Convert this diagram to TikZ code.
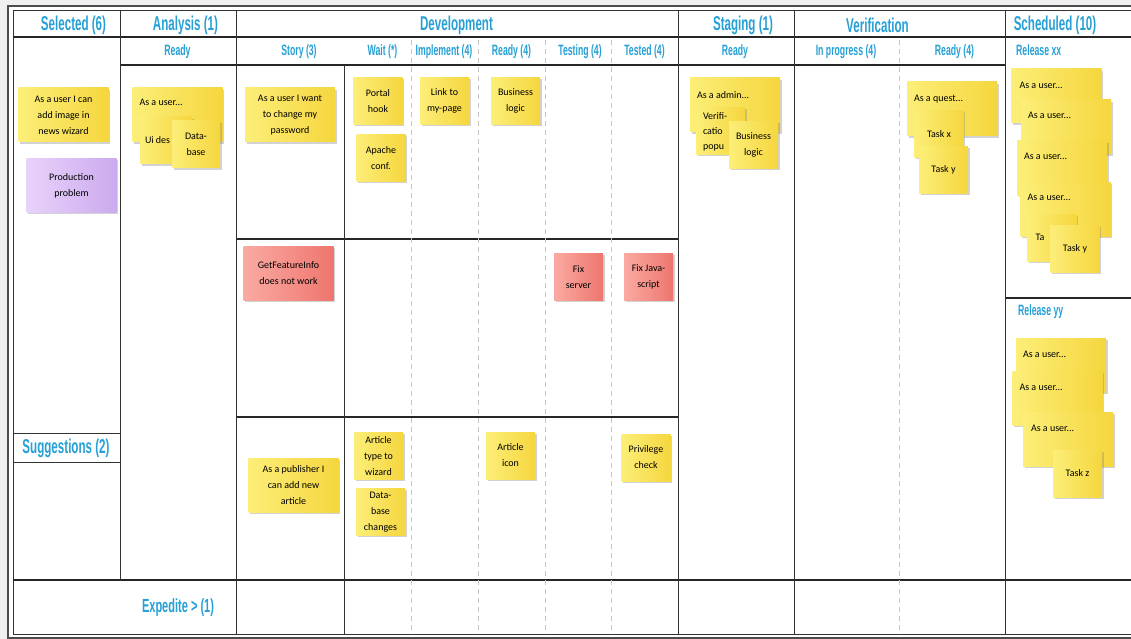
\documentclass[tikz,border=0pt]{standalone}
\usepackage{fontspec}
\usepackage{tikz}
\usetikzlibrary{shadows}
\newfontfamily\headfont[FakeStretch=0.58]{Liberation Sans}
\newfontfamily\notefont{Carlito}
\definecolor{headblue}{RGB}{38,160,214}
\definecolor{noteA}{RGB}{252,238,120}
\definecolor{noteB}{RGB}{245,214,62}
\definecolor{redA}{RGB}{250,170,162}
\definecolor{redB}{RGB}{238,118,110}
\definecolor{purA}{RGB}{232,210,250}
\definecolor{purB}{RGB}{204,170,238}

\begin{document}
\begin{tikzpicture}[x=1pt,y=-1pt]

            \tikzset{head/.style={text=headblue, inner sep=0pt, font=\headfont\bfseries\fontsize{20}{22}\selectfont},
                     sub/.style={text=headblue, inner sep=0pt, font=\headfont\bfseries\fontsize{15}{17}\selectfont},
                     ynote/.style={left color=noteA, right color=noteB, inner sep=2pt, align=center,
                        drop shadow={shadow xshift=1.8pt, shadow yshift=-1.8pt, opacity=0.35},
                        font=\notefont\fontsize{10}{16}\selectfont},
                     rnote/.style={ynote, left color=redA, right color=redB},
                     pnote/.style={ynote, left color=purA, right color=purB},
                     big/.style={minimum width=90pt, minimum height=54pt},
                     small/.style={minimum width=49pt, minimum height=47pt},
                     notetxt/.style={inner sep=0pt, anchor=west, align=left, font=\notefont\fontsize{10}{15}\selectfont},
                     wall/.style={black!80, line width=1pt},
                     lane/.style={black!85, line width=1.3pt},
                     sep/.style={gray!45, line width=0.8pt, dash pattern=on 5pt off 4pt}}

            \useasboundingbox (0,0) rectangle (1131,639);
            \clip (0,0) rectangle (1131,639);
            \fill[gray!12] (0,0) rectangle (1131,639);
            \fill[white] (8,6) rectangle (1140,638);
            \draw[gray!60!black, line width=2.2pt] (8,6) rectangle (1140,638);
            \draw[wall] (13,11) rectangle (1140,634);

            % rows
            \draw[lane] (13,37) -- (1140,37);
            \draw[lane] (120,65) -- (1005,65);
            \draw[lane] (236,239) -- (678,239);
            \draw[lane] (236,417) -- (678,417);
            \draw[lane] (1005,298) -- (1140,298);
            \draw[wall] (13,433) -- (120,433);
            \draw[wall] (13,462) -- (120,462);
            \draw[lane] (13,580) -- (1140,580);

            % columns
            \draw[wall] (120,11) -- (120,580);
            \foreach \x in {236,678,794,1005}
                \draw[wall] (\x,11) -- (\x,634);
            \draw[wall] (344,65) -- (344,634);
            \foreach \x in {411,478,545,611,899}
                \draw[sep] (\x,40) -- (\x,634);

            \node[head] (hsel) at (73.5,25) {Selected (6)};
            \node[head] (hana) at (185.5,25) {Analysis (1)};
            \node[head] (hdev) at (456.5,25) {Development};
            \node[head] (hstg) at (743,25) {Staging (1)};
            \node[head] (hver) at (877.5,25) {Verification};
            \node[head] (hsch) at (1055,25) {Scheduled (10)};

            \node[sub] (sana) at (177.5,52) {Ready};
            \node[sub] (sstory) at (299,52) {Story (3)};
            \node[sub] (swait) at (382.5,52) {Wait (*)};
            \node[sub] (simpl) at (444,52) {Implement (4)};
            \node[sub] (sready) at (511.5,52) {Ready (4)};
            \node[sub] (stest) at (580,52) {Testing (4)};
            \node[sub] (stested) at (644.5,52) {Tested (4)};
            \node[sub] (sstg) at (735,52) {Ready};
            \node[sub] (sprog) at (846,52) {In progress (4)};
            \node[sub] (sverr) at (954.5,52) {Ready (4)};
            \node[sub, anchor=west] (relxx) at (1016,50) {Release xx};
            \node[sub, anchor=west] (relyy) at (1018,312) {Release yy};
            \node[head] (sugg) at (66,448) {Suggestions (2)};
            \node[head, font=\headfont\bfseries\fontsize{19}{21}\selectfont] (exped) at (178,608) {Expedite > (1)};

            % selected
            \node[ynote, big] (sel1) at (63.5,115) {As a user I can\\add image in\\news wizard};
            \node[pnote, big] (prod) at (71.5,185.5) {Production\\problem};

            % analysis
            \node[ynote, big] (an1) at (177.5,115) {};
            \node[notetxt] (an1t) at ([xshift=7pt, yshift=-15pt]an1.north west) {As a user...};
            \node[ynote, minimum width=52pt, minimum height=47pt] (an2) at (166,140.5) {};
            \node[notetxt] (an2t) at ([xshift=5pt]an2.west) {Ui des};
            \node[ynote, minimum width=48pt, minimum height=47pt] (an3) at (196,144.5) {Data-\\base};

            % development
            \node[ynote, big] (st1) at (290,115) {As a user I want\\to change my\\password};
            \node[ynote, small] (wt1) at (378,101) {Portal\\hook};
            \node[ynote, small] (wt2) at (381,158) {Apache\\conf.};
            \node[ynote, small] (im1) at (444.5,101) {Link to\\my-page};
            \node[ynote, small] (rd1) at (515.5,101) {Business\\logic};

            \node[rnote, big] (gf1) at (288.5,273) {GetFeatureInfo\\does not work};
            \node[rnote, small] (ts1) at (578.5,277) {Fix\\server};
            \node[rnote, small] (td1) at (648.5,277) {Fix Java-\\script};

            \node[ynote, big] (pb1) at (293.5,485) {As a publisher I\\can add new\\article};
            \node[ynote, small] (wt3) at (378.5,456) {Article\\type to\\wizard};
            \node[ynote, small] (wt4) at (380.5,512) {Data-\\base\\changes};
            \node[ynote, small] (rd2) at (510.5,455.5) {Article\\icon};
            \node[ynote, small] (td2) at (646,457.5) {Privilege\\check};

            % staging
            \node[ynote, big] (sg1) at (735,105) {};
            \node[notetxt] (sg1t) at ([xshift=7pt, yshift=-17pt]sg1.north west) {As a admin...};
            \node[ynote, small] (sg2) at (720.5,131) {};
            \node[notetxt, anchor=north west] (sg2t) at ([xshift=7pt, yshift=-5pt]sg2.north west) {Verifi-\\catio\\popu};
            \node[ynote, small] (sg3) at (753.5,145) {Business\\logic};

            % verification
            \node[ynote, big] (vr1) at (952,109) {};
            \node[notetxt] (vr1t) at ([xshift=7pt, yshift=-17pt]vr1.north west) {As a quest...};
            \node[ynote, small] (vr2) at (939,134) {Task x};
            \node[ynote, small] (vr3) at (943.5,170) {Task y};

            % scheduled
            \node[ynote, big] (rx1) at (1056.5,96) {};
            \node[notetxt] (rx1t) at ([xshift=8pt, yshift=-17pt]rx1.north west) {As a user...};
            \node[ynote, big] (rx2) at (1066,127) {};
            \node[notetxt] (rx2t) at ([xshift=7pt, yshift=-16pt]rx2.north west) {As a user...};
            \node[ynote, big] (rx3) at (1062,168) {};
            \node[notetxt] (rx3t) at ([xshift=7pt, yshift=-16pt]rx3.north west) {As a user...};
            \node[ynote, big] (rx4) at (1065.5,209) {};
            \node[notetxt] (rx4t) at ([xshift=7pt, yshift=-16pt]rx4.north west) {As a user...};
            \node[ynote, small] (rx5) at (1052,237.5) {};
            \node[notetxt] (rx5t) at ([xshift=8pt]rx5.west) {Ta};
            \node[ynote, small] (rx6) at (1075,249) {Task y};

            \node[ynote, big] (ry1) at (1061,365.5) {};
            \node[notetxt] (ry1t) at ([xshift=7pt, yshift=-16pt]ry1.north west) {As a user...};
            \node[ynote, big] (ry2) at (1057.5,398.5) {};
            \node[notetxt] (ry2t) at ([xshift=7pt, yshift=-16pt]ry2.north west) {As a user...};
            \node[ynote, big] (ry3) at (1068,439.5) {};
            \node[notetxt] (ry3t) at ([xshift=8pt, yshift=-16pt]ry3.north west) {As a user...};
            \node[ynote, small] (ry4) at (1077.5,473.5) {Task z};

        \end{tikzpicture}
\end{document}
